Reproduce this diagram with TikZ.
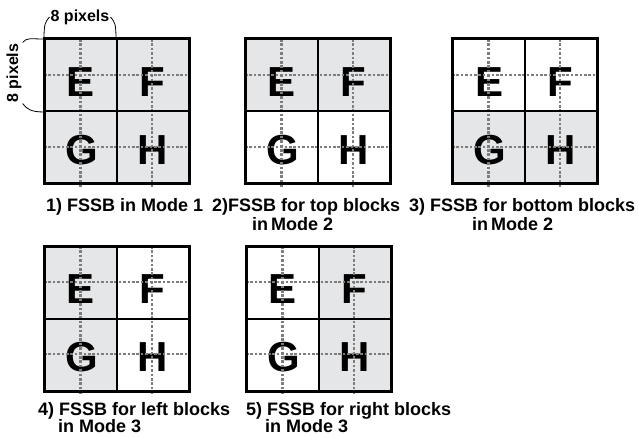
\documentclass[tikz,border=0pt]{standalone}
\usepackage{fontspec}
\setmainfont{Liberation Sans}
\definecolor{cellgray}{RGB}{229,230,232}
\definecolor{dotgray}{RGB}{125,125,125}
\begin{document}
\begin{tikzpicture}[x=1pt, y=-1pt,
  letter/.style={font=\fontsize{42}{42}\selectfont\bfseries, inner sep=0pt},
  caption/.style={font=\fontsize{18}{20}\selectfont\bfseries, inner sep=0pt, anchor=base west},
  pxlabel/.style={font=\fontsize{16}{16}\selectfont\bfseries, inner sep=1pt},
  guide/.style={dotgray, line width=2.4pt, dash pattern=on 2.6pt off 1.8pt},
  midline/.style={line width=2pt},
  frame/.style={line width=3pt}]
\useasboundingbox (0,0) rectangle (639,438);

% The five 2x2 blocks (E F / G H), shaded cells per mode
\foreach \n/\gx/\gy/\ce/\cf/\cg/\ch in {
    1/44/39/cellgray/cellgray/cellgray/cellgray,
    2/245/39/cellgray/cellgray/white/white,
    3/452/39/white/white/cellgray/cellgray,
    4/44/246/cellgray/white/cellgray/white,
    5/246/246/white/cellgray/white/cellgray} {
  \begin{scope}[shift={(\gx,\gy)}]
    \fill[\ce] (0,0) rectangle (72.5,72.5);
    \fill[\cf] (72.5,0) rectangle (145,72.5);
    \fill[\cg] (0,72.5) rectangle (72.5,145);
    \fill[\ch] (72.5,72.5) rectangle (145,145);
    \node[letter] (e\n) at (37,43) {E};
    \node[letter] (f\n) at (108,43) {F};
    \node[letter] (g\n) at (38,111) {G};
    \node[letter] (h\n) at (109,111) {H};
    % sub-block guides
    \draw[guide] (36.5,0) -- (36.5,149);
    \draw[guide] (108,0) -- (108,149);
    \draw[guide] (0,36) -- (145,36);
    \draw[guide] (0,108) -- (145,108);
    \draw[midline] (72.5,0) -- (72.5,145) (0,72.5) -- (145,72.5);
    \draw[frame] (0,0) rectangle (145,145);
  \end{scope}
}

% 8 pixels marks on the first block
\coordinate (tl) at (44,39);
\coordinate (tm) at (116,39);
\coordinate (ml) at (44,112);
\node[pxlabel] (pxtop) at (80,17) {8 pixels};
\node[pxlabel, rotate=90] (pxleft) at (14,73) {8 pixels};
\draw[line width=0.8pt] (tl) .. controls +(0,-16) and +(-4,5) .. (pxtop.west);
\draw[line width=0.8pt] (tm) .. controls +(0,-16) and +(4,5) .. (pxtop.east);
\draw[line width=0.8pt] (tl) .. controls +(-14,0) and +(4,-5) .. (pxleft.south east);
\draw[line width=0.8pt] (ml) .. controls +(-14,0) and +(4,5) .. (pxleft.south west);

% Captions
\node[caption] (cap1) at (46,212) {1) FSSB in Mode 1};
\node[caption] (cap2) at (212,212) {2)FSSB for top blocks};
\node[caption] (cap2b) at (252,231) {in\,Mode 2};
\node[caption] (cap3) at (409,212) {3) FSSB for bottom blocks};
\node[caption] (cap3b) at (472,231) {in\,Mode 2};
\node[caption] (cap4) at (38,415) {4) FSSB for left blocks};
\node[caption] (cap4b) at (58,432) {in Mode 3};
\node[caption] (cap5) at (246,415) {5) FSSB for right blocks};
\node[caption] (cap5b) at (265,432) {in Mode 3};
\end{tikzpicture}
\end{document}
